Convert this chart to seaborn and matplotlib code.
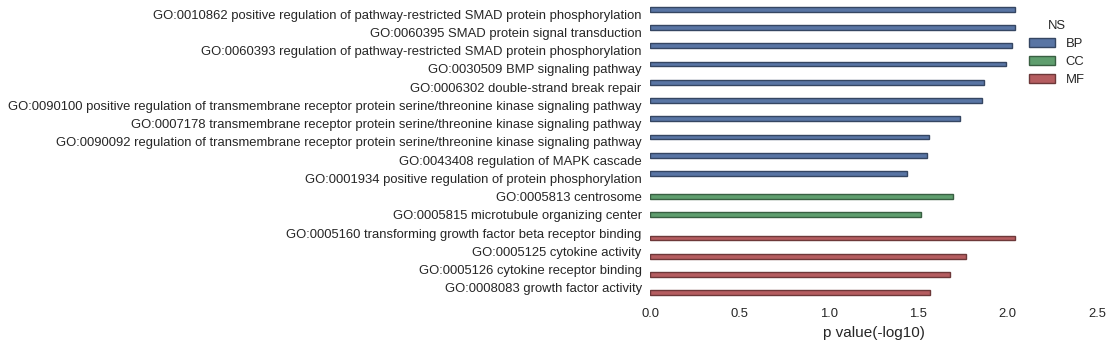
import matplotlib
matplotlib.use("Agg")
import matplotlib.pyplot as plt
import matplotlib.colors as mcolors
import seaborn as sns
import pandas as pd

terms = [
    "GO:0010862 positive regulation of pathway-restricted SMAD protein phosphorylation",
    "GO:0060395 SMAD protein signal transduction",
    "GO:0060393 regulation of pathway-restricted SMAD protein phosphorylation",
    "GO:0030509 BMP signaling pathway",
    "GO:0006302 double-strand break repair",
    "GO:0090100 positive regulation of transmembrane receptor protein serine/threonine kinase signaling pathway",
    "GO:0007178 transmembrane receptor protein serine/threonine kinase signaling pathway",
    "GO:0090092 regulation of transmembrane receptor protein serine/threonine kinase signaling pathway",
    "GO:0043408 regulation of MAPK cascade",
    "GO:0001934 positive regulation of protein phosphorylation",
    "GO:0005813 centrosome",
    "GO:0005815 microtubule organizing center",
    "GO:0005160 transforming growth factor beta receptor binding",
    "GO:0005125 cytokine activity",
    "GO:0005126 cytokine receptor binding",
    "GO:0008083 growth factor activity",
]
namespaces = ["BP"] * 10 + ["CC"] * 2 + ["MF"] * 4
neg_log10_p = [2.04, 2.04, 2.025, 1.99, 1.87, 1.857, 1.734, 1.56, 1.549, 1.435,
               1.693, 1.516,
               2.04, 1.765, 1.678, 1.566]
ns_levels = ["BP", "CC", "MF"]
ns_colors = ["#4C72B0", "#55A868", "#C44E52"]

df = pd.DataFrame({"term": terms, "NS": namespaces, "p": neg_log10_p})

sns.set_style("white")
plt.rcParams["font.family"] = ["Liberation Sans", "DejaVu Sans"]
plt.rcParams["text.color"] = "#262626"
plt.rcParams["axes.labelcolor"] = "#262626"
plt.rcParams["xtick.color"] = "#262626"
plt.rcParams["ytick.color"] = "#262626"

fig = plt.figure(figsize=(11.12, 3.45), dpi=100)
ax = fig.add_axes([650 / 1112, 48 / 345, 447 / 1112, 292 / 345])

sns.barplot(data=df, y="term", x="p", hue="NS", hue_order=ns_levels,
            palette=ns_colors, order=terms, orient="h", ax=ax, dodge=True,
            saturation=0.75, linewidth=1, errorbar=None)

# darker outline for each bar, like the fill but deeper
for patch in ax.patches:
    fc = mcolors.to_rgb(patch.get_facecolor())
    patch.set_edgecolor(tuple(c * 0.6 for c in fc))

ax.set_xlim(0, 2.5)
ax.set_ylim(len(terms) - 0.5, -0.5)
ax.set_xticks([0.0, 0.5, 1.0, 1.5, 2.0, 2.5])
ax.set_xticklabels(["0.0", "0.5", "1.0", "1.5", "2.0", "2.5"])
ax.set_xlabel("p value(-log10)", fontsize=11)
ax.set_ylabel("")
ax.tick_params(axis="y", labelsize=9.4, length=0, pad=6)
ax.tick_params(axis="x", labelsize=9.4, length=0, pad=8)
sns.despine(ax=ax, left=True, bottom=True)

leg = ax.legend(title="NS", loc="upper left", bbox_to_anchor=(0.822, 0.99),
                frameon=False, fontsize=9.4, title_fontsize=9.4,
                handlelength=2.0, handleheight=0.7, labelspacing=0.45,
                handletextpad=0.8)
for h in leg.legend_handles:
    fc = mcolors.to_rgb(h.get_facecolor())
    h.set_edgecolor(tuple(c * 0.6 for c in fc))

fig.savefig("out.png", dpi=100)
